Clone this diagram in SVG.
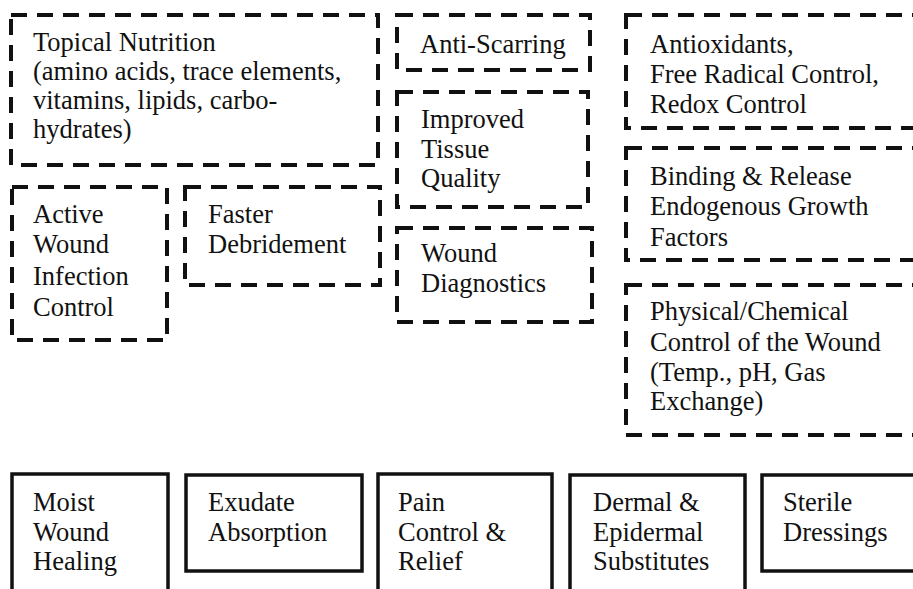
<svg xmlns="http://www.w3.org/2000/svg" width="913" height="589" viewBox="0 0 913 589">
<style>
.d{fill:none;stroke:#111;stroke-width:4;stroke-dasharray:16 10}
.s{fill:none;stroke:#111;stroke-width:3.5}
text{font-family:"Liberation Serif","Times New Roman",serif;font-size:26.5px;fill:#111}
</style>
<rect width="913" height="589" fill="#fff"/>
<g id="topical"><rect class="d" x="11" y="15" width="367" height="150"/>
<text><tspan x="33" y="51">Topical Nutrition</tspan><tspan x="33" y="80">(amino acids, trace elements,</tspan><tspan x="33" y="109">vitamins, lipids, carbo-</tspan><tspan x="33" y="138">hydrates)</tspan></text></g>
<g id="infection"><rect class="d" x="12" y="187" width="155" height="153"/>
<text><tspan x="33" y="223">Active</tspan><tspan x="33" y="253">Wound</tspan><tspan x="33" y="285">Infection</tspan><tspan x="33" y="316">Control</tspan></text></g>
<g id="debridement"><rect class="d" x="185" y="187" width="195" height="98"/>
<text><tspan x="208" y="223">Faster</tspan><tspan x="208" y="253">Debridement</tspan></text></g>
<g id="antiscarring"><rect class="d" x="397" y="15" width="193" height="55"/>
<text x="420" y="53">Anti-Scarring</text></g>
<g id="tissue"><rect class="d" x="397" y="92" width="191" height="115"/>
<text><tspan x="421" y="128">Improved</tspan><tspan x="421" y="158">Tissue</tspan><tspan x="421" y="187">Quality</tspan></text></g>
<g id="diagnostics"><rect class="d" x="397" y="228" width="195" height="94"/>
<text><tspan x="421" y="262">Wound</tspan><tspan x="421" y="292">Diagnostics</tspan></text></g>
<g id="antioxidants"><rect class="d" x="626" y="15" width="310" height="113"/>
<text><tspan x="650" y="53">Antioxidants,</tspan><tspan x="650" y="83">Free Radical Control,</tspan><tspan x="650" y="113">Redox Control</tspan></text></g>
<g id="binding"><rect class="d" x="626" y="148" width="310" height="112"/>
<text><tspan x="650" y="185">Binding &amp; Release</tspan><tspan x="650" y="215">Endogenous Growth</tspan><tspan x="650" y="246">Factors</tspan></text></g>
<g id="physical"><rect class="d" x="626" y="285" width="310" height="150"/>
<text><tspan x="650" y="320">Physical/Chemical</tspan><tspan x="650" y="351">Control of the Wound</tspan><tspan x="650" y="381">(Temp., pH, Gas</tspan><tspan x="650" y="410">Exchange)</tspan></text></g>
<g id="moist"><rect class="s" x="12" y="474" width="156" height="140"/>
<text><tspan x="33" y="511">Moist</tspan><tspan x="33" y="541">Wound</tspan><tspan x="33" y="570">Healing</tspan></text></g>
<g id="exudate"><rect class="s" x="186" y="475" width="176" height="96"/>
<text><tspan x="208" y="511">Exudate</tspan><tspan x="208" y="541">Absorption</tspan></text></g>
<g id="pain"><rect class="s" x="378" y="474" width="174" height="140"/>
<text><tspan x="398" y="511">Pain</tspan><tspan x="398" y="541">Control &amp;</tspan><tspan x="398" y="570">Relief</tspan></text></g>
<g id="dermal"><rect class="s" x="570" y="475" width="175" height="140"/>
<text><tspan x="593" y="511">Dermal &amp;</tspan><tspan x="593" y="541">Epidermal</tspan><tspan x="593" y="570">Substitutes</tspan></text></g>
<g id="sterile"><rect class="s" x="762" y="475" width="170" height="96"/>
<text><tspan x="783" y="511">Sterile</tspan><tspan x="783" y="541">Dressings</tspan></text></g>
<g id="connectors"/>
</svg>
